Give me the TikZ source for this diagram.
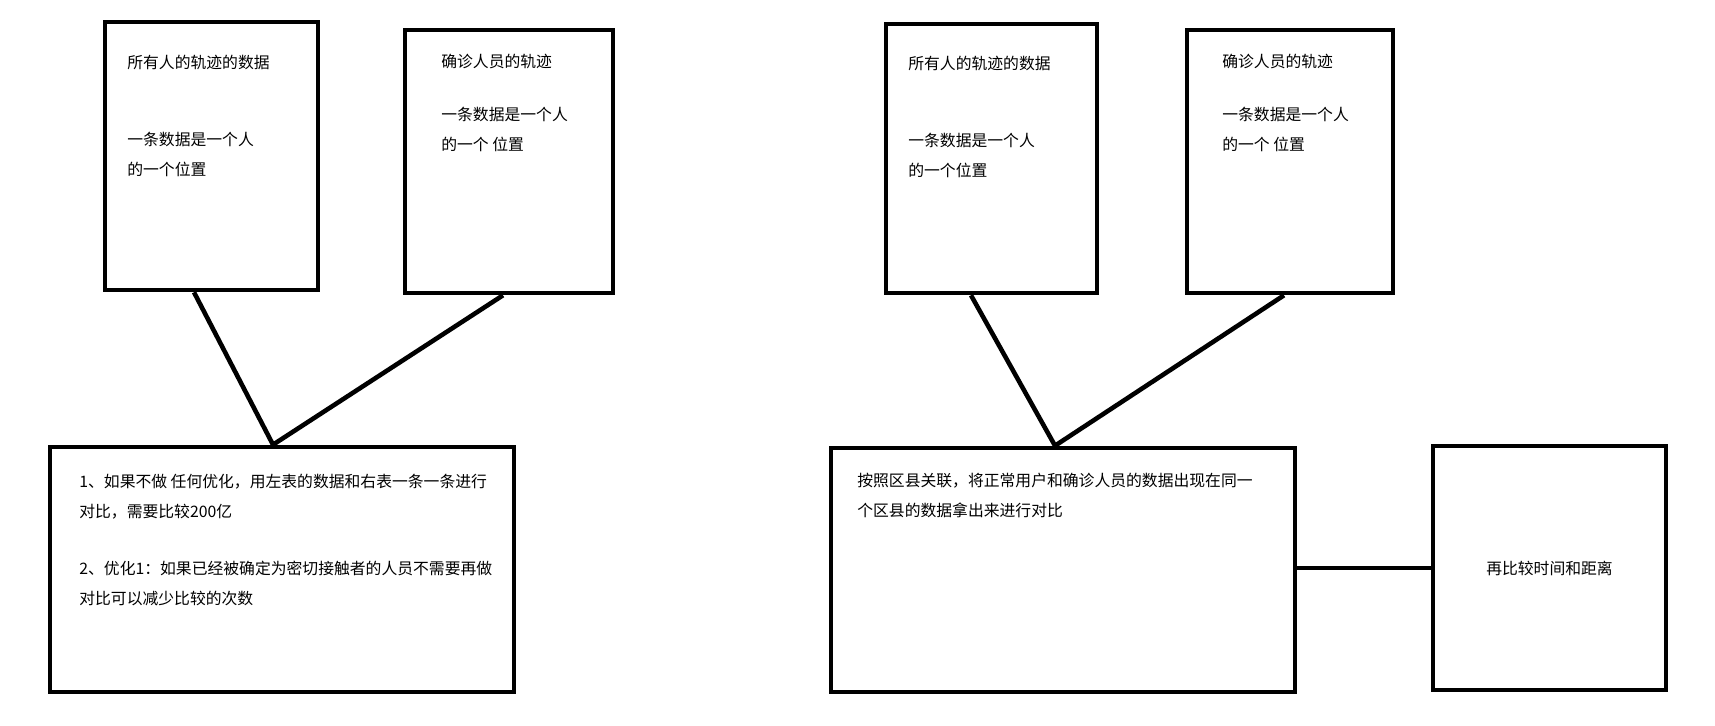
\documentclass[tikz,border=0pt]{standalone}
\usepackage{fontspec}
\newfontfamily\cjk{Noto Sans CJK SC}
\usepackage{tikz}
\usetikzlibrary{positioning,fit}

\begin{document}
\begin{tikzpicture}[
  x=0.02cm, y=-0.02cm,
  box/.style={rectangle,draw,line width=2.6pt,inner sep=0pt},
  txt/.style={anchor=north west,align=left,inner sep=0pt,font=\cjk\fontsize{9}{16.8}\selectfont},
  link/.style={line width=2.6pt}
]
\useasboundingbox (0,0) rectangle (1715,726);
% left half
\node[box,fit={(105,22) (318,290)}] (allLeft) {};
\node[box,fit={(405,30) (613,293)}] (caseLeft) {};
\node[box,fit={(50,447) (514,692)}] (plainCmp) {};
\node[txt] (allLeftTitle) at (127,55) {所有人的轨迹的数据};
\node[txt] (allLeftBody) at (127,132) {一条数据是一个人\\的一个位置};
\node[txt] (caseLeftTitle) at (441,54) {确诊人员的轨迹};
\node[txt] (caseLeftBody) at (441,107) {一条数据是一个人\\的一个 位置};
\node[txt] (noteOne) at (79,474) {1、如果不做 任何优化，用左表的数据和右表一条一条进行\\对比，需要比较200亿};
\node[txt] (noteTwo) at (79,561) {2、优化1：如果已经被确定为密切接触者的人员不需要再做\\对比可以减少比较的次数};
% right half
\node[box,fit={(886,24) (1097,293)}] (allRight) {};
\node[box,fit={(1187,30) (1393,293)}] (caseRight) {};
\node[box,fit={(831,448) (1295,692)}] (areaCmp) {};
\node[box,fit={(1433,446) (1666,690)}] (timeCmp) {};
\node[txt] (allRightTitle) at (908,56) {所有人的轨迹的数据};
\node[txt] (allRightBody) at (908,133) {一条数据是一个人\\的一个位置};
\node[txt] (caseRightTitle) at (1222,54) {确诊人员的轨迹};
\node[txt] (caseRightBody) at (1222,107) {一条数据是一个人\\的一个 位置};
\node[txt] (areaNote) at (857,473) {按照区县关联，将正常用户和确诊人员的数据出现在同一\\个区县的数据拿出来进行对比};
\node[txt,anchor=center] (timeNote) at (timeCmp.center) {再比较时间和距离};
% links
\draw[link] ([xshift=-0.35cm]allLeft.south) -- ([xshift=-0.18cm]plainCmp.north);
\draw[link] ([xshift=-0.12cm]caseLeft.south) -- ([xshift=-0.18cm]plainCmp.north);
\draw[link] ([xshift=-0.41cm]allRight.south) -- ([xshift=-0.16cm]areaCmp.north);
\draw[link] ([xshift=-0.12cm]caseRight.south) -- ([xshift=-0.16cm]areaCmp.north);
\draw[link] (timeCmp.west -| areaCmp.east) -- (timeCmp.west);
\end{tikzpicture}
\end{document}
